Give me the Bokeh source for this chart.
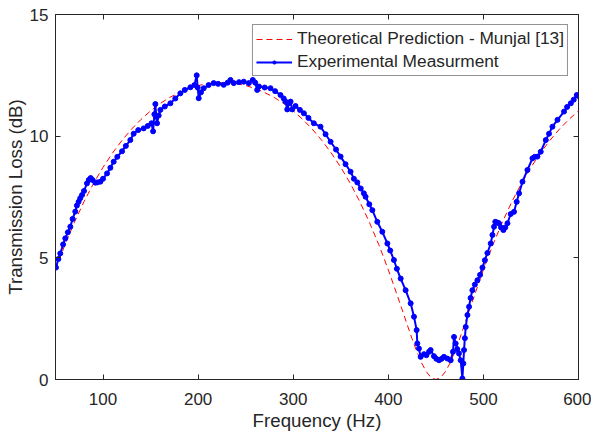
from bokeh.plotting import figure
from bokeh.models import Range1d, FixedTicker, LinearAxis, Legend, LegendItem
from bokeh.embed import file_html
from bokeh.resources import INLINE

theory_freq = [50, 60, 70, 80, 90, 100, 110, 120, 130, 140, 150, 160, 170, 180, 190,
               200, 210, 220, 230, 240, 250, 260, 270, 280, 290, 300, 310, 320, 330,
               340, 350, 360, 370, 380, 390, 400, 410, 420, 425, 430, 435, 440, 445,
               450, 455, 460, 465, 470, 475, 480, 490, 500, 510, 520, 530, 540, 550,
               560, 570, 580, 590, 600]
theory_tl = [4.51, 5.54, 6.47, 7.31, 8.06, 8.72, 9.31, 9.83, 10.29, 10.69, 11.04, 11.34,
             11.59, 11.79, 11.96, 12.08, 12.16, 12.20, 12.20, 12.16, 12.08, 11.96, 11.79,
             11.59, 11.34, 11.04, 10.69, 10.29, 9.83, 9.31, 8.72, 8.06, 7.31, 6.47, 5.54,
             4.51, 3.39, 2.24, 1.67, 1.15, 0.68, 0.32, 0.08, 0.0, 0.08, 0.32, 0.68, 1.15,
             1.67, 2.24, 3.39, 4.51, 5.54, 6.47, 7.31, 8.06, 8.72, 9.31, 9.83, 10.29,
             10.69, 11.04]

exp_freq = [50.5, 53, 55, 58, 60.3, 63, 65.6, 68, 70.8, 72.5, 74.3, 76, 77.9, 80, 83.1,
            85, 87, 89, 91.9, 94, 97.2, 100, 104.2, 107.7, 111.2, 115, 120, 124, 128.7,
            132.2, 137, 142.7, 147, 151, 152.6, 154, 155, 156, 156.8, 158.5, 160.3, 165,
            170.8, 176, 181.3, 186, 191.9, 196.1, 198.5, 199.5, 200.6, 203, 205.9, 211,
            216.4, 221, 226.9, 231, 234, 237.5, 243, 248, 253.3, 257.5, 260, 262.1, 264,
            270, 276.1, 281, 286.6, 290, 291.9, 293.7, 295.5, 297.2, 298.9, 302.4, 307,
            311.2, 316, 321.7, 328.7, 334, 339.3, 345, 349.8, 355, 360.3, 363.8, 367.4,
            371, 374.3, 376.1, 380, 383.2, 388.4, 393.7, 399, 402, 405.9, 409, 413,
            418.2, 423.5, 427, 429.8, 430.5, 432.2, 434, 437.5, 440, 442.8, 444.5, 448,
            450.5, 453.3, 456, 458.5, 462.1, 465.6, 468, 469.1, 470.8, 472.5, 474.3,
            476.1, 477.9, 478.9, 479.6, 480.5, 481.4, 483.2, 484.9, 486.5, 488.4, 491,
            493.7, 496.5, 499, 501.5, 504.2, 507.7, 509.5, 511.2, 512.5, 514.7, 516.4,
            518.5, 521, 523, 525.3, 528.7, 532.2, 535, 537.5, 541.1, 546.3, 551.6, 554,
            556.8, 560.3, 565.6, 569, 572.6, 577.9, 584.8, 588, 591.9, 595, 598.2, 600]
exp_tl = [4.6, 4.95, 5.18, 5.55, 5.8, 6.05, 6.28, 6.6, 6.9, 7.15, 7.3, 7.45, 7.58, 7.75,
          8.06, 8.2, 8.28, 8.2, 8.09, 8.1, 8.13, 8.25, 8.47, 8.7, 8.95, 9.15, 9.38, 9.6,
          9.84, 10.1, 10.25, 10.32, 10.42, 10.53, 10.2, 10.9, 11.32, 10.8, 10.53, 10.85,
          11.08, 11.22, 11.35, 11.55, 11.76, 11.9, 12.01, 12.1, 12.5, 12.0, 11.56, 11.8,
          11.97, 12.1, 12.18, 12.15, 12.11, 12.2, 12.31, 12.18, 12.22, 12.24, 12.18,
          12.31, 12.2, 11.9, 12.04, 12.0, 11.97, 11.85, 11.69, 11.55, 11.42, 11.1, 11.35,
          11.42, 11.1, 11.24, 11.08, 10.94, 10.75, 10.53, 10.39, 10.08, 9.77, 9.45, 9.16,
          8.85, 8.54, 8.25, 8.1, 7.85, 7.65, 7.51, 7.2, 6.96, 6.48, 6.07, 5.59, 5.3, 4.91,
          4.55, 4.15, 3.67, 3.13, 2.58, 2.03, 1.48, 1.27, 0.93, 1.04, 1.0, 1.14, 1.21,
          0.96, 0.85, 0.79, 0.85, 0.93, 0.86, 0.79, 1.14, 1.75, 1.48, 1.25, 1.07, 0.79,
          0.04, 0.66, 1.21, 1.7, 2.16, 2.65, 2.99, 3.35, 3.67, 3.9, 4.08, 4.3, 4.6, 4.9,
          5.2, 5.59, 5.94, 6.28, 6.48, 6.45, 6.42, 6.25, 6.14, 6.25, 6.42, 6.8, 6.89, 7.3,
          7.65, 8.13, 8.61, 9.09, 9.15, 9.16, 9.36, 9.84, 10.1, 10.39, 10.67, 11.01, 11.2,
          11.35, 11.5, 11.69, 11.65]

x_ticks = [100, 200, 300, 400, 500, 600]
y_ticks = [0, 5, 10, 15]

FONT = "Liberation Sans"
AXC = "#262626"

p = figure(width=591, height=435, output_backend="svg", toolbar_location=None,
           x_range=Range1d(50, 600), y_range=Range1d(0, 15),
           min_border_left=55, min_border_right=13, min_border_top=14, min_border_bottom=56,
           x_axis_label="Frequency (Hz)", y_axis_label="Transmission Loss (dB)")
p.grid.visible = False
p.outline_line_color = AXC
p.outline_line_width = 1
p.background_fill_color = "white"
p.border_fill_color = "white"

for ax in (p.xaxis[0], p.yaxis[0]):
    ax.axis_line_color = AXC
    ax.major_tick_line_color = AXC
    ax.major_tick_in = 5
    ax.major_tick_out = 0
    ax.minor_tick_line_color = None
    ax.major_label_text_font = FONT
    ax.major_label_text_font_size = "17px"
    ax.major_label_text_color = AXC
    ax.axis_label_text_font = FONT
    ax.axis_label_text_font_size = "18.7px"
    ax.axis_label_text_font_style = "normal"
    ax.axis_label_text_color = AXC

p.xaxis[0].ticker = FixedTicker(ticks=x_ticks)
p.yaxis[0].ticker = FixedTicker(ticks=y_ticks)
p.xaxis[0].major_label_standoff = 13
p.xaxis[0].axis_label_standoff = 2
p.yaxis[0].major_label_standoff = 7
p.yaxis[0].axis_label_standoff = 1

top = LinearAxis(ticker=FixedTicker(ticks=x_ticks), major_tick_in=5, major_tick_out=0,
                 major_label_text_font_size="1px", major_label_text_color=None,
                 major_label_standoff=0,
                 minor_tick_line_color=None, axis_line_color=AXC, major_tick_line_color=AXC)
right = LinearAxis(ticker=FixedTicker(ticks=y_ticks), major_tick_in=5, major_tick_out=0,
                   major_label_text_font_size="1px", major_label_text_color=None,
                   major_label_standoff=0,
                   minor_tick_line_color=None, axis_line_color=AXC, major_tick_line_color=AXC)
p.add_layout(top, "above")
p.add_layout(right, "right")

r_theory = p.line(theory_freq, theory_tl, line_color="#ff0000", line_width=1,
                  line_dash="6 4")
r_exp_line = p.line(exp_freq, exp_tl, line_color="#0000ff", line_width=2)
r_exp_pts = p.scatter(exp_freq, exp_tl, size=5, fill_color="#0000ff",
                      line_color="#0000ff", marker="circle")

legend = Legend(items=[
    LegendItem(label="Theoretical Prediction - Munjal [13]", renderers=[r_theory]),
    LegendItem(label="Experimental Measurment", renderers=[r_exp_line, r_exp_pts]),
], location="top_right")
legend.margin = 10
legend.padding = 3
legend.spacing = 2
legend.glyph_width = 36
legend.glyph_height = 8
legend.label_height = 20
legend.label_standoff = 5
legend.label_text_font = FONT
legend.label_text_font_size = "17.3px"
legend.label_text_color = AXC
legend.border_line_color = AXC
legend.border_line_width = 1
legend.background_fill_color = "white"
legend.background_fill_alpha = 1
p.add_layout(legend, "center")

open("out.html", "w").write(file_html(p, INLINE))
